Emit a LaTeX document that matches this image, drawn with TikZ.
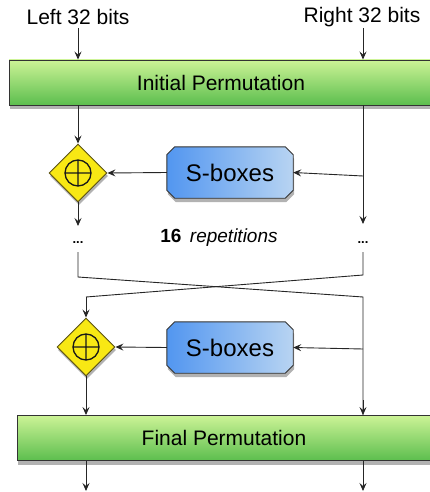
\documentclass[tikz,border=0pt]{standalone}
\usepackage{fontspec}
\setmainfont{Liberation Sans}
\usetikzlibrary{arrows.meta,shapes.geometric,shadows,calc}

\definecolor{permtop}{RGB}{204,243,150}
\definecolor{permbot}{RGB}{92,190,78}
\definecolor{sboxl}{RGB}{82,150,240}
\definecolor{sboxr}{RGB}{184,212,242}
\definecolor{xorfill}{RGB}{248,232,20}
\definecolor{xoredge}{RGB}{90,80,20}

\pgfdeclarelayer{background}
\pgfsetlayers{background,main}

\tikzset{
  wire/.style={draw=black!85, line width=0.9pt},
  arr/.style={wire, -{Stealth[length=8pt,width=7pt,inset=3pt]}},
  permbox/.style={draw=black!80, line width=0.9pt, rectangle,
    top color=permtop, bottom color=permbot,
    minimum height=45pt, font=\fontsize{21}{24}\selectfont,
    drop shadow={shadow xshift=1pt, shadow yshift=-4pt, opacity=0.3, fill=black}},
  sbox/.style={rectangle, minimum width=126pt, minimum height=51pt,
    inner sep=0pt, font=\fontsize{24}{28}\selectfont},
  sboxshape/.style={draw=black!80, line width=0.9pt,
    left color=sboxl, right color=sboxr,
    drop shadow={shadow xshift=1pt, shadow yshift=-4pt, opacity=0.3, fill=black}},
  xorgate/.style={draw=xoredge, line width=0.9pt, diamond, fill=xorfill,
    minimum width=58pt, minimum height=58pt, inner sep=0pt,
    drop shadow={shadow xshift=1pt, shadow yshift=-3pt, opacity=0.3, fill=black}},
  label/.style={font=\fontsize{21}{24}\selectfont, inner sep=0pt},
  dots/.style={font=\fontsize{13}{15}\selectfont\bfseries, inner sep=0pt}
}

% XOR symbol: circle with a cross
\newcommand{\xorsign}[1]{%
  \draw[line width=1.3pt, black!90] (#1) circle (13pt)
    ($(#1)+(-13pt,0)$) -- ($(#1)+(13pt,0)$)
    ($(#1)+(0,-13pt)$) -- ($(#1)+(0,13pt)$);}

% octagonal outline behind an S-box node
\newcommand{\sboxframe}[1]{%
  \begin{pgfonlayer}{background}
    \path[sboxshape]
      ($(#1.north west)+(8pt,0)$) -- ($(#1.north east)+(-8pt,0)$)
      -- ($(#1.north east)+(0,-8pt)$) -- ($(#1.south east)+(0,8pt)$)
      -- ($(#1.south east)+(-8pt,0)$) -- ($(#1.south west)+(8pt,0)$)
      -- ($(#1.south west)+(0,8pt)$) -- ($(#1.north west)+(0,-8pt)$)
      -- cycle;
  \end{pgfonlayer}}

\begin{document}
\begin{tikzpicture}[x=1pt,y=-1pt]
  \useasboundingbox (0,0) rectangle (430,492);

  % inputs
  \node[label] (lin) at (78,17) {Left 32 bits};
  \node[label] (rin) at (362,17) {Right 32 bits};

  % permutations
  \node[permbox, minimum width=424pt] (ip) at (221,82.5) {Initial Permutation};
  \node[permbox, minimum width=414pt] (fp) at (224,438) {Final Permutation};

  % first round
  \node[xorgate] (x1) at (78,173) {};
  \xorsign{x1.center}
  \node[sbox] (s1) at (230,172.5) {S-boxes};
  \sboxframe{s1}
  \coordinate (b1) at (363,176);

  % repetition markers
  \node[dots] (dl) at (78,243) {...};
  \node[dots] (dr) at (363,243) {...};
  \node[inner sep=0pt, font=\fontsize{19}{22}\selectfont] (rep) at (219,238)
    {\textbf{16}\, \textit{repetitions}};

  % last round
  \node[xorgate] (x2) at (86,347) {};
  \xorsign{x2.center}
  \node[sbox] (s2) at (230,347.5) {S-boxes};
  \sboxframe{s2}
  \coordinate (b2) at (363,349);

  % crossing of the halves
  \coordinate (lt) at (78,252);
  \coordinate (lk) at (78,277);
  \coordinate (rk) at (363,297);
  \coordinate (rt) at (363,252);
  \coordinate (rk2) at (363,275);
  \coordinate (lk2) at (86,297);

  % connectors
  \draw[arr] (lin.south |- 0,28) -- (lin.south |- ip.north);
  \draw[arr] (b1 |- 0,28) -- (b1 |- ip.north);
  \draw[arr] (ip.south -| x1) -- (x1.north);
  \draw[arr] (ip.south -| b1) -- (b1 |- 0,224);
  \draw[arr] (b1) -- (s1.east);
  \draw[arr] (s1.west) -- (x1.east);
  \draw[arr] (x1.south) -- (x1.south |- 0,226);

  \draw[wire] (lt) -- (lk) -- (rk) -- (rk |- fp.north);
  \draw[arr] (rk |- 0,400) -- (rk |- fp.north);
  \draw[wire] (rt) -- (rk2) -- (lk2);
  \draw[arr] (lk2) -- (x2.north);
  \draw[arr] (b2) -- (s2.east);
  \draw[arr] (s2.west) -- (x2.east);
  \draw[arr] (x2.south) -- (x2.south |- fp.north);

  % outputs
  \draw[arr] (fp.south -| x2) -- (x2 |- 0,491);
  \draw[arr] (fp.south -| b2) -- (b2 |- 0,491);
\end{tikzpicture}
\end{document}
